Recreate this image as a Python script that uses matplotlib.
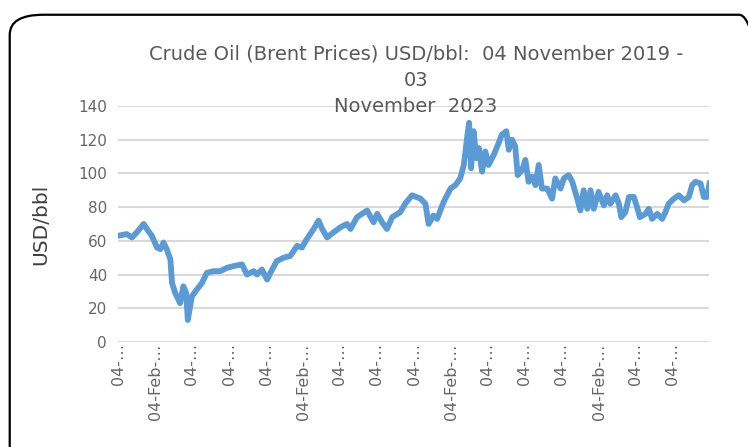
import numpy as np
import pandas as pd
import matplotlib
matplotlib.use("Agg")
import matplotlib.pyplot as plt
from matplotlib.patches import FancyBboxPatch

# days after 04-Nov-2019 and Brent price (USD/bbl)
days = [0, 21, 34, 46, 63, 71, 83, 96, 104, 112, 120, 129, 133, 141, 153, 161,
        168, 172, 182, 194, 207, 219, 236, 252, 269, 285, 306, 318, 335, 343,
        355, 368, 376, 392, 409, 425, 442, 454, 466, 483, 495, 504, 516, 532,
        549, 565, 574, 590, 615, 631, 640, 652, 664, 677, 697, 709, 726, 747,
        759, 767, 779, 788, 804, 821, 833, 845, 854, 862, 867, 872, 878, 885,
        891, 899, 907, 915, 928, 940, 948, 959, 965, 973, 981, 987, 998, 1006,
        1014, 1023, 1031, 1039, 1047, 1060, 1072, 1080, 1093, 1101, 1113, 1122,
        1134, 1142, 1150, 1159, 1167, 1175, 1187, 1200, 1208, 1216, 1229, 1237,
        1243, 1253, 1262, 1274, 1282, 1289, 1303, 1311, 1319, 1332, 1344, 1352,
        1360, 1373, 1385, 1398, 1410, 1418, 1426, 1439, 1447, 1455, 1461]
price = [63, 64, 62, 65, 70, 67, 63, 56, 55, 59, 55, 49, 35, 29, 23, 33,
         29, 13, 27, 31, 35, 41, 42, 42, 44, 45, 46, 40, 42, 40,
         43, 37, 41, 48, 50, 51, 57, 56, 61, 67, 72, 67, 62, 65,
         68, 70, 67, 74, 78, 71, 76, 71, 67, 74, 77, 82, 87, 85,
         82, 70, 75, 73, 83, 91, 93, 97, 105, 121, 130, 103, 125, 109,
         115, 101, 113, 105, 111, 118, 123, 125, 114, 120, 116, 99, 102, 108,
         95, 98, 93, 105, 91, 91, 85, 97, 91, 97, 99, 95,
         85, 78, 90, 79, 90, 79, 89, 81, 87, 82, 87, 82,
         74, 77, 86, 86, 80, 74, 76, 79, 73, 76, 73, 77,
         82, 85, 87, 84, 86, 93, 95, 94, 86, 86, 94]

start = pd.Timestamp("2019-11-04")
end = pd.Timestamp("2023-11-03")
tick_dates = pd.date_range(start, periods=16, freq=pd.DateOffset(months=3))
tick_labels = ["04-Feb-\u2026" if d.month == 2 else "04-\u2026" for d in tick_dates]

dates = start + pd.to_timedelta(days, unit="D")

fig = plt.figure(figsize=(7.48, 4.47), dpi=100)
ax = fig.add_axes([0.158, 0.235, 0.79, 0.528])

# rounded chart border
fig.patches.append(FancyBboxPatch((0.013, -0.05), 1.02, 1.017, transform=fig.transFigure,
                                  boxstyle="round,pad=0,rounding_size=0.045",
                                  fill=False, edgecolor="black", linewidth=1.6))

ax.plot(dates, price, color="#5B9BD5", linewidth=4.2, solid_joinstyle="round")

ax.set_ylim(0, 140)
ax.set_yticks(np.arange(0, 141, 20))
ax.set_xlim(start, end)
ax.set_xticks(tick_dates)
ax.set_xticklabels(tick_labels, rotation=90, va="top", ha="center")

ax.grid(axis="y", color="#D9D9D9", linewidth=1.5)
ax.set_axisbelow(True)
for s in ["top", "right", "left", "bottom"]:
    ax.spines[s].set_visible(False)
ax.tick_params(axis="both", length=0, colors="#666666")
ax.tick_params(axis="x", pad=1, labelsize=11.5)
ax.tick_params(axis="y", pad=8, labelsize=11)

ax.set_ylabel("USD/bbl", fontsize=14.5, color="#404040")
ax.yaxis.set_label_coords(-0.115, 0.5)

title_kw = dict(ha="center", va="center", fontsize=14, color="#595959")
fig.text(0.556, 0.88, "Crude Oil (Brent Prices) USD/bbl:  04 November 2019 -", **title_kw)
fig.text(0.556, 0.82, "03", **title_kw)
fig.text(0.556, 0.762, "November  2023", **title_kw)

fig.savefig("out.png", dpi=100)
